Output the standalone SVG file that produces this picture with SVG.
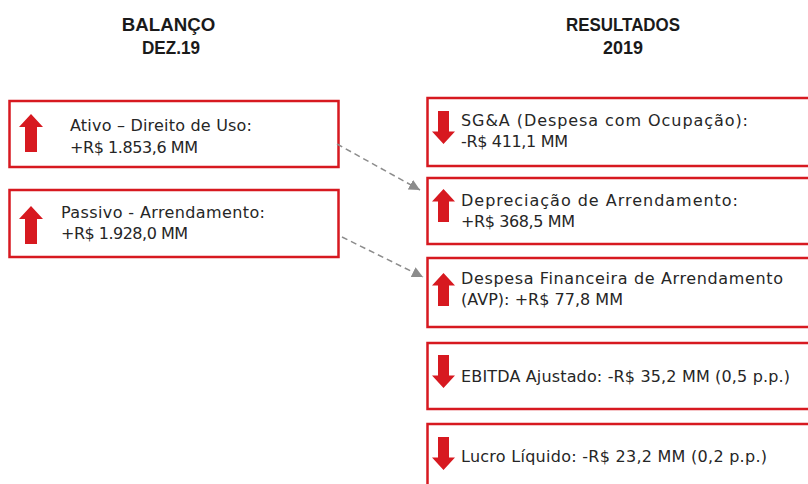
<svg xmlns="http://www.w3.org/2000/svg" width="808" height="484" viewBox="0 0 808 484">
<style>
.box{fill:#ffffff;stroke:#d71920;stroke-width:2.5}
.arr{fill:#d71920}
.t{font-family:"DejaVu Sans","Liberation Sans",Arial,sans-serif;font-size:16px;fill:#262626}
.h{font-family:"Liberation Sans",Arial,sans-serif;font-size:17.5px;font-weight:bold;fill:#1a1a1a;text-anchor:middle}
.con{stroke:#8c8c8c;stroke-width:1.5;stroke-dasharray:6,4;fill:none}
</style>
<defs>
<path id="upL" d="M0,0 L12,13 L6,13 L6,38 L-6,38 L-6,13 L-12,13 Z"/>
<path id="upR" d="M0,0 L11.5,12.5 L5.5,12.5 L5.5,33 L-5.5,33 L-5.5,12.5 L-11.5,12.5 Z"/>
<marker id="ah" viewBox="0 0 10 10" refX="10" refY="5" markerWidth="11" markerHeight="11" markerUnits="userSpaceOnUse" orient="auto">
<path d="M0,0 L10,5 L0,10 Z" fill="#8c8c8c"/>
</marker>
</defs>
<rect width="808" height="484" fill="#ffffff"/>
<g id="headers">
<text class="h" x="168.5" y="31" textLength="93.5" lengthAdjust="spacingAndGlyphs">BALANÇO</text>
<text class="h" x="171" y="54" textLength="58" lengthAdjust="spacingAndGlyphs">DEZ.19</text>
<text class="h" x="623" y="30.5" textLength="114" lengthAdjust="spacingAndGlyphs">RESULTADOS</text>
<text class="h" x="623" y="54" textLength="40" lengthAdjust="spacingAndGlyphs">2019</text>
</g>
<g id="ativo">
<rect class="box" x="9.5" y="101" width="329" height="66"/>
<use href="#upL" class="arr" x="31" y="114"/>
<text class="t" x="70" y="131" textLength="182" lengthAdjust="spacing">Ativo – Direito de Uso:</text>
<text class="t" x="70" y="152.5" textLength="128" lengthAdjust="spacing">+R$ 1.853,6 MM</text>
</g>
<g id="passivo">
<rect class="box" x="9.5" y="190" width="329" height="67"/>
<use href="#upL" class="arr" x="31" y="206"/>
<text class="t" x="61" y="218" textLength="204" lengthAdjust="spacing">Passivo - Arrendamento:</text>
<text class="t" x="61" y="239" textLength="127" lengthAdjust="spacing">+R$ 1.928,0 MM</text>
</g>
<g id="sga">
<rect class="box" x="427.5" y="98" width="400" height="68"/>
<use href="#upR" class="arr" transform="translate(443.5,144) rotate(180)"/>
<text class="t" x="461" y="126" textLength="287" lengthAdjust="spacing">SG&amp;A (Despesa com Ocupação):</text>
<text class="t" x="461" y="146.5" textLength="107" lengthAdjust="spacing">-R$ 411,1 MM</text>
</g>
<g id="depreciacao">
<rect class="box" x="427.5" y="178" width="400" height="66"/>
<use href="#upR" class="arr" x="443.5" y="189"/>
<text class="t" x="461" y="206" textLength="277" lengthAdjust="spacing">Depreciação de Arrendamento:</text>
<text class="t" x="461" y="226.5" textLength="114" lengthAdjust="spacing">+R$ 368,5 MM</text>
</g>
<g id="financeira">
<rect class="box" x="427.5" y="258" width="400" height="69"/>
<use href="#upR" class="arr" x="443.5" y="273"/>
<text class="t" x="461" y="284" textLength="322" lengthAdjust="spacing">Despesa Financeira de Arrendamento</text>
<text class="t" x="461" y="304.5" textLength="162" lengthAdjust="spacing">(AVP): +R$ 77,8 MM</text>
</g>
<g id="ebitda">
<rect class="box" x="427.5" y="343" width="400" height="66"/>
<use href="#upR" class="arr" transform="translate(443.5,388) rotate(180)"/>
<text class="t" x="461" y="381.5" textLength="329" lengthAdjust="spacing">EBITDA Ajustado: -R$ 35,2 MM (0,5 p.p.)</text>
</g>
<g id="lucro">
<rect class="box" x="427.5" y="424" width="400" height="80"/>
<use href="#upR" class="arr" transform="translate(443.5,470) rotate(180)"/>
<text class="t" x="461" y="462" textLength="306" lengthAdjust="spacing">Lucro Líquido: -R$ 23,2 MM  (0,2 p.p.)</text>
</g>
<g id="connectors">
<line class="con" x1="337" y1="144" x2="420" y2="190" marker-end="url(#ah)"/>
<line class="con" x1="342" y1="237" x2="423" y2="277" marker-end="url(#ah)"/>
</g>
</svg>
